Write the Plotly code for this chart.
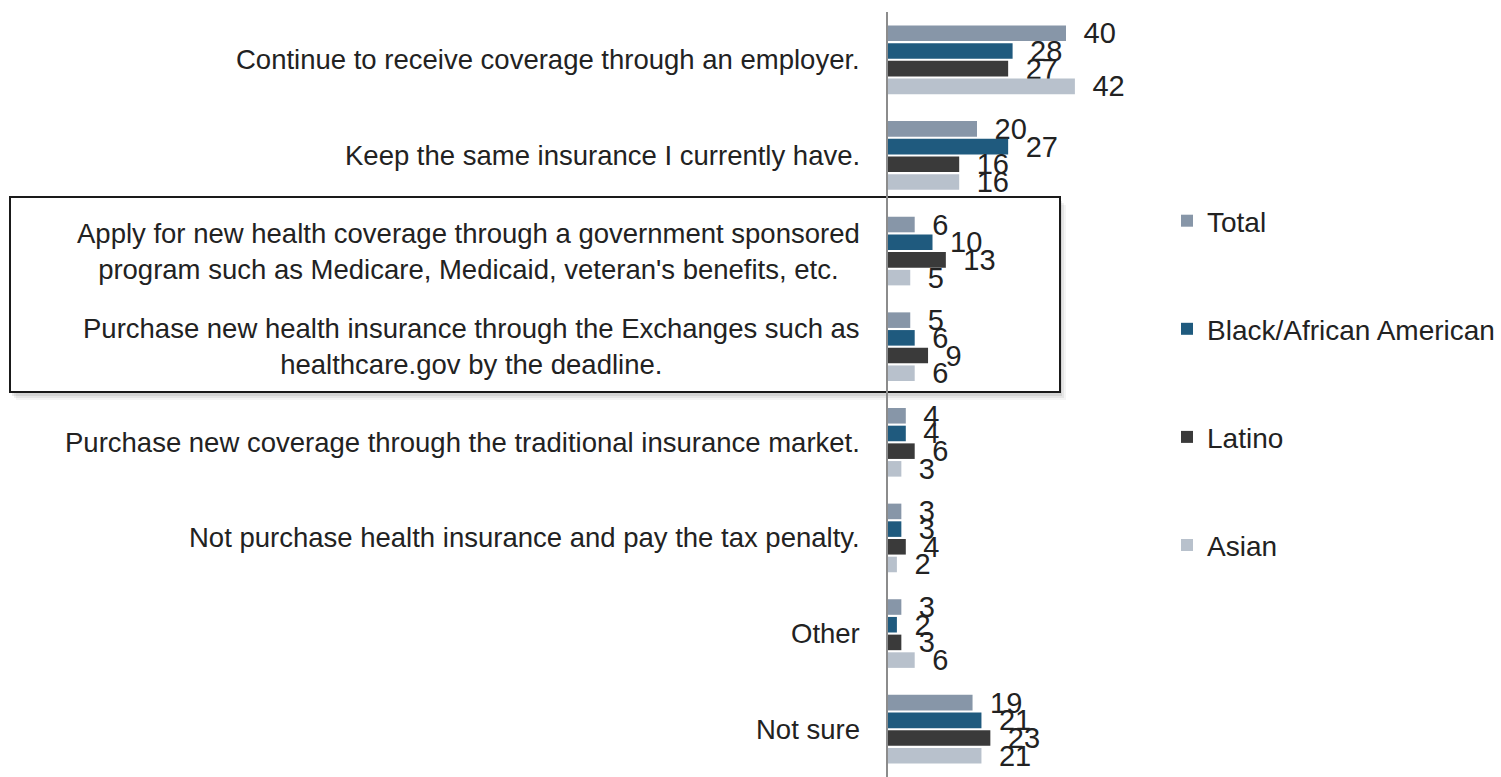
import plotly.graph_objects as go

categories = [
    "Continue to receive coverage through an employer.",
    "Keep the same insurance I currently have.",
    "Apply for new health coverage through a government sponsored<br>program such as Medicare, Medicaid, veteran's benefits, etc.",
    "Purchase new health insurance through the Exchanges such as<br>healthcare.gov by the deadline.",
    "Purchase new coverage through the traditional insurance market.",
    "Not purchase health insurance and pay the tax penalty.",
    "Other",
    "Not sure",
]

series_names = ["Total", "Black/African American", "Latino", "Asian"]
total = [40, 20, 6, 5, 4, 3, 3, 19]
black = [28, 27, 10, 6, 4, 3, 2, 21]
latino = [27, 16, 13, 9, 6, 4, 3, 23]
asian = [42, 16, 5, 6, 3, 2, 6, 21]
series_values = [total, black, latino, asian]

colors = ["#8796a8", "#1f5a7e", "#3a3a3a", "#b8c1cc"]

FONT = "Liberation Sans"
W, H = 1501, 777
LEFT = 888
PLOT_W = 267
TOP = 12

fig = go.Figure()
for name, vals, col in zip(series_names, series_values, colors):
    fig.add_trace(go.Bar(
        name=name,
        y=categories,
        x=vals,
        orientation="h",
        marker=dict(color=col, line=dict(width=0)),
        text=vals,
        texttemplate="\u2002%{x}",
        textposition="outside",
        constraintext="none",
        cliponaxis=False,
        textfont=dict(family=FONT, size=29, color="#222222"),
        legendgroup=name,
        hoverinfo="skip",
    ))

# category labels, multi-line entries centred within their block
for cat in categories:
    fig.add_annotation(
        x=0, xref="paper", y=cat, yref="y",
        text=cat, showarrow=False,
        xanchor="right", yanchor="middle", align="center",
        xshift=-26,
        font=dict(family=FONT, size=27.5, color="#222222"),
    )

# framed box around the two highlighted options, with a soft drop shadow
for dx, dy, c in [(6, 8, "rgba(0,0,0,0.04)"), (4, 6, "rgba(0,0,0,0.06)"), (2, 4, "rgba(0,0,0,0.08)")]:
    fig.add_shape(
        type="rect", xref="paper", yref="paper",
        x0=(10 + dx - LEFT) / PLOT_W, x1=(1060 + dx - LEFT) / PLOT_W,
        y0=1 - (392 + dy - TOP) / (H - TOP), y1=1 - (197 + dy - TOP) / (H - TOP),
        line=dict(width=0), fillcolor=c, layer="below",
    )
fig.add_shape(
    type="rect", xref="paper", yref="paper",
    x0=(10 - LEFT) / PLOT_W, x1=(1060 - LEFT) / PLOT_W,
    y0=1 - (392 - TOP) / (H - TOP), y1=1 - (197 - TOP) / (H - TOP),
    line=dict(width=2, color="#1a1a1a"), fillcolor="white", layer="below",
)

fig.update_layout(
    width=W, height=H,
    margin=dict(l=LEFT, r=W - LEFT - PLOT_W, t=TOP, b=0),
    paper_bgcolor="white", plot_bgcolor="rgba(0,0,0,0)",
    barmode="group", bargap=0.26, bargroupgap=0.12,
    font=dict(family=FONT, color="#222222"),
    xaxis=dict(range=[0, 60], visible=False, fixedrange=True),
    yaxis=dict(
        autorange="reversed", showticklabels=False, ticks="",
        showline=True, linecolor="#8c8c8c", linewidth=2,
        showgrid=False, zeroline=False,
    ),
    legend=dict(
        xref="container", yref="container",
        x=1167 / W, xanchor="left",
        y=1 - 196 / H, yanchor="top",
        font=dict(family=FONT, size=28, color="#222222"),
        tracegroupgap=68.7, traceorder="grouped",
        bgcolor="rgba(0,0,0,0)",
    ),
    showlegend=True,
)

fig.write_html("out.html")
